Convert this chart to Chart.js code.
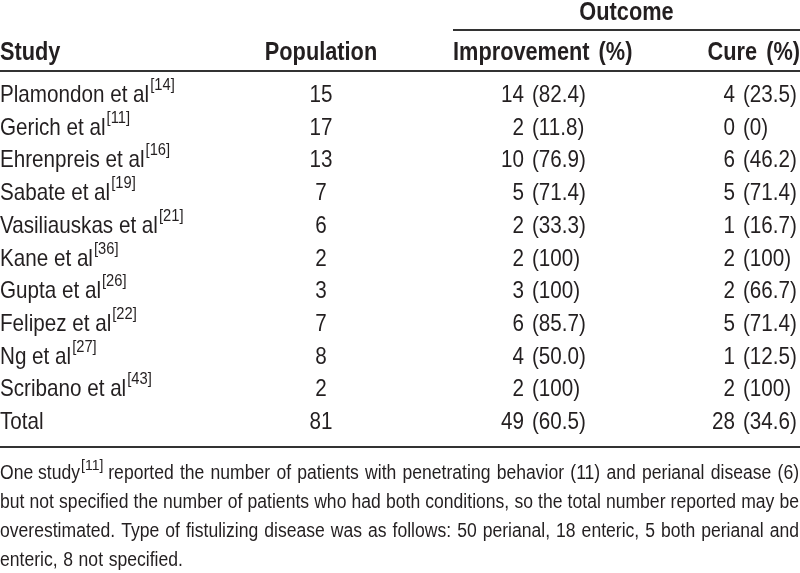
<!DOCTYPE html>
<html><head><meta charset="utf-8">
<script src="https://cdn.jsdelivr.net/npm/chart.js@4"></script>
<style>html,body{margin:0;padding:0;background:#fff}#wrap{width:800px;height:573px;position:relative}</style>
</head><body><div id="wrap"><canvas id="c"></canvas></div>
<script>
// ---- data ----
const studies = ['Plamondon et al','Gerich et al','Ehrenpreis et al','Sabate et al','Vasiliauskas et al','Kane et al','Gupta et al','Felipez et al','Ng et al','Scribano et al','Total'];
const refs = ['14','11','16','19','21','36','26','22','27','43',''];
const population = [15,17,13,7,6,2,3,7,8,2,81];
const improvementN = [14,2,10,5,2,2,3,6,4,2,49];
const improvementPct = ['82.4','11.8','76.9','71.4','33.3','100','100','85.7','50.0','100','60.5'];
const cureN = [4,0,6,5,1,2,2,5,1,2,28];
const curePct = ['23.5','0','46.2','71.4','16.7','100','66.7','71.4','12.5','100','34.6'];
const columnHeaders = ['Study','Population','Improvement (%)','Cure (%)'];
const groupHeader = 'Outcome';
const footnoteLead = 'One study';
const footnoteRef = '11';
const footnoteLines = [
  'reported the number of patients with penetrating behavior (11) and perianal disease (6)',
  'but not specified the number of patients who had both conditions, so the total number reported may be',
  'overestimated. Type of fistulizing disease was as follows: 50 perianal, 18 enteric, 5 both perianal and',
  'enteric, 8 not specified.'
];

// ---- layout / style ----
const FONT = '"Liberation Sans",Arial,sans-serif';
const TEXT = '#231f20';
const RULE = '#333333';
const BODY = {size:24, sx:0.86};
const HEAD = {size:25, sx:0.87};
const SUP = {size:16, sx:0.92, raise:12};
const FOOT = {size:20, supSize:14, raise:9};
const COL = {study:0, pop:321, impParen:532, cureParen:743, groupL:453, right:800};
const ROWS = {outcome:-2.508, header:-1.284, rule1:-2.202, rule2:-0.937, rule3:10.54, foot:[11.529,12.416,13.303,14.19]};

const kinds = ['study','pop','imp','cure'];
const colX = [COL.study, COL.pop, COL.impParen, COL.cureParen];

function txt(ctx, s, x, y, align, font, sx){
  ctx.save();
  ctx.font = font;
  ctx.textAlign = align;
  ctx.translate(x, y);
  ctx.scale(sx, 1);
  ctx.fillText(s, 0, 0);
  const w = ctx.measureText(s).width * sx;
  ctx.restore();
  return w;
}
function mw(ctx, s, font, sx){ ctx.save(); ctx.font=font; const w=ctx.measureText(s).width*sx; ctx.restore(); return w; }
// draw a justified line of words from x0 to x1
function justify(ctx, s, x0, x1, y, font, sx, doJustify){
  const words = s.split(' ');
  const ws = words.map(w=>mw(ctx,w,font,sx));
  const sp = mw(ctx,' ',font,sx);
  const total = ws.reduce((a,b)=>a+b,0);
  const gap = doJustify && words.length>1 ? (x1-x0-total)/(words.length-1) : sp*1.15;
  let x = x0;
  words.forEach((w,i)=>{ txt(ctx,w,x,y,'left',font,sx); x += ws[i]+gap; });
}

const tablePlugin = {
  id:'table',
  afterDatasetsDraw(chart){
    const ctx = chart.ctx, xs = chart.scales.x, ys = chart.scales.y;
    ctx.save();
    ctx.fillStyle = TEXT;
    ctx.textBaseline = 'alphabetic';
    // rules
    ctx.strokeStyle = RULE; ctx.lineWidth = 2;
    const hline = (x0,x1,r)=>{const y=Math.round(ys.getPixelForValue(r)); ctx.beginPath(); ctx.moveTo(xs.getPixelForValue(x0),y); ctx.lineTo(xs.getPixelForValue(x1),y); ctx.stroke();};
    hline(COL.groupL, COL.right, ROWS.rule1);
    hline(0, COL.right, ROWS.rule2);
    hline(0, COL.right, ROWS.rule3);
    // headers
    const hf = 'bold '+HEAD.size+'px '+FONT;
    txt(ctx, groupHeader, xs.getPixelForValue((COL.groupL+COL.right)/2), ys.getPixelForValue(ROWS.outcome), 'center', hf, HEAD.sx);
    const hy = ys.getPixelForValue(ROWS.header);
    txt(ctx, columnHeaders[0], xs.getPixelForValue(COL.study), hy, 'left', hf, HEAD.sx);
    txt(ctx, columnHeaders[1], xs.getPixelForValue(COL.pop), hy, 'center', hf, HEAD.sx);
    const imW = mw(ctx, 'Improvement', hf, HEAD.sx);
    txt(ctx, 'Improvement', xs.getPixelForValue(COL.groupL), hy, 'left', hf, HEAD.sx);
    txt(ctx, columnHeaders[2].slice(12), xs.getPixelForValue(COL.groupL)+imW+9, hy, 'left', hf, HEAD.sx);
    const cpW = mw(ctx, '(%)', hf, HEAD.sx);
    txt(ctx, '(%)', xs.getPixelForValue(COL.right), hy, 'right', hf, HEAD.sx);
    txt(ctx, columnHeaders[3].split(' ')[0], xs.getPixelForValue(COL.right)-cpW-9, hy, 'right', hf, HEAD.sx);
    // cells
    const bf = BODY.size+'px '+FONT;
    const sf = SUP.size+'px '+FONT;
    chart.data.datasets.forEach((ds,di)=>{
      const meta = chart.getDatasetMeta(di);
      meta.data.forEach((pt,i)=>{
        const x = pt.x, y = pt.y;
        if (ds.kind==='study'){
          const w = txt(ctx, studies[i], x, y, 'left', bf, BODY.sx);
          if (refs[i]) txt(ctx, '['+refs[i]+']', x+w+1, y-SUP.raise, 'left', sf, SUP.sx);
        } else if (ds.kind==='pop'){
          txt(ctx, String(population[i]), x, y, 'center', bf, BODY.sx);
        } else {
          const n = ds.kind==='imp'?improvementN[i]:cureN[i];
          const p = ds.kind==='imp'?improvementPct[i]:curePct[i];
          txt(ctx, String(n), x-8, y, 'right', bf, BODY.sx);
          txt(ctx, '('+p+')', x, y, 'left', bf, BODY.sx);
        }
      });
    });
    // footnote: justified lines across the table width
    const ff = FOOT.size+'px '+FONT;
    const fsf = FOOT.supSize+'px '+FONT;
    const supW = mw(ctx, '['+footnoteRef+']', fsf, 1);
    const leadRaw = mw(ctx, footnoteLead, ff, 1);
    // find a horizontal scale that lets every justified line fit
    let fsx = 1;
    footnoteLines.forEach((l,k)=>{
      const words = (k===0? footnoteLead+' '+l : l).split(' ');
      const raw = words.reduce((a,w)=>a+mw(ctx,w,ff,1),0) + (words.length-1)*mw(ctx,' ',ff,1)*1.05 + (k===0?supW+1:0);
      fsx = Math.min(fsx, (COL.right-1)/raw);
    });
    let fy = ys.getPixelForValue(ROWS.foot[0]);
    let fx = txt(ctx, footnoteLead, 0, fy, 'left', ff, fsx) + 1;
    fx += txt(ctx, '['+footnoteRef+']', fx, fy-FOOT.raise, 'left', fsf, 1);
    fx += mw(ctx,' ',ff,fsx);
    justify(ctx, footnoteLines[0], fx, COL.right-1, fy, ff, fsx, true);
    for (let k=1;k<footnoteLines.length;k++){
      justify(ctx, footnoteLines[k], 0, COL.right-1, ys.getPixelForValue(ROWS.foot[k]), ff, fsx, k<footnoteLines.length-1);
    }
    ctx.restore();
  }
};

const datasets = kinds.map((k,ci)=>({
  kind:k,
  data: studies.map((s,i)=>({x:colX[ci], y:i})),
  pointRadius:0, pointHoverRadius:0, showLine:false
}));

const ROWH = 32.7, FIRST = 102;
new Chart(document.getElementById('c'), {
  type:'scatter',
  data:{datasets},
  options:{
    responsive:true, maintainAspectRatio:false, animation:false,
    events:[],
    layout:{padding:0},
    plugins:{legend:{display:false}, tooltip:{enabled:false}},
    scales:{
      x:{type:'linear', min:0, max:800, display:false},
      y:{type:'linear', reverse:true, min:-FIRST/ROWH, max:(573-FIRST)/ROWH, display:false}
    }
  },
  plugins:[tablePlugin]
});
</script>
</body></html>
